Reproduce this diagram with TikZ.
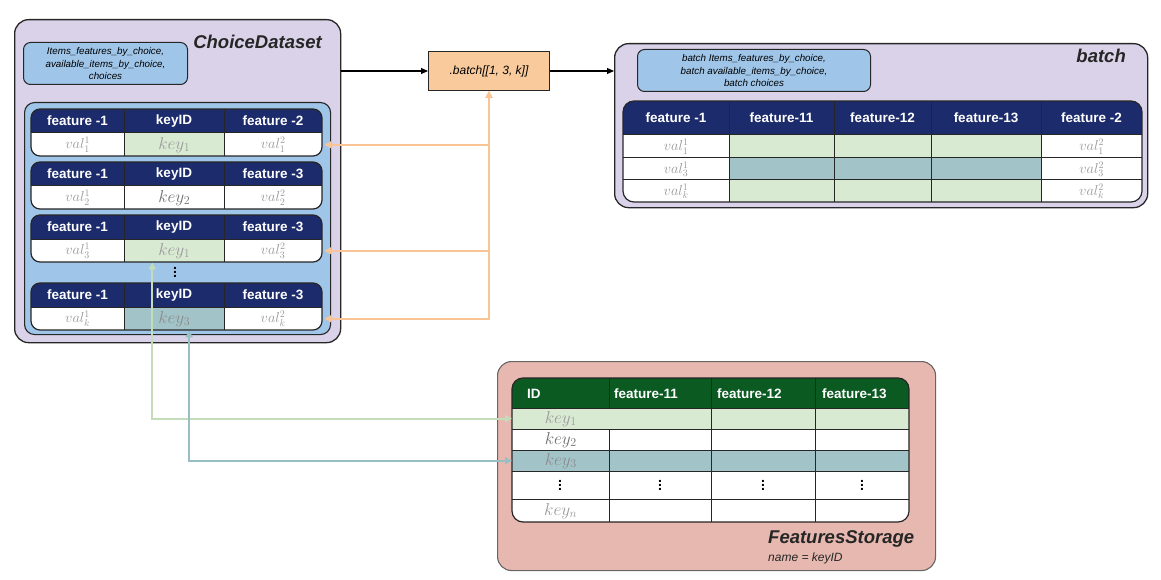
\documentclass[tikz,border=0pt]{standalone}
\usepackage{fontspec}
\setmainfont{Liberation Sans}
\usetikzlibrary{arrows.meta,calc}

\definecolor{lav}{HTML}{D9D2E9}
\definecolor{lblue}{HTML}{9FC5E8}
\definecolor{navy}{HTML}{1C2B6B}
\definecolor{lgreen}{HTML}{D9EAD3}
\definecolor{teal2}{HTML}{A2C4C9}
\definecolor{peach}{HTML}{F9CB9C}
\definecolor{pinkbg}{HTML}{E6B8AF}
\definecolor{dgreen}{HTML}{0B5A22}
\definecolor{edge}{HTML}{262626}
\definecolor{valgray}{HTML}{9A9A9A}
\definecolor{keydark}{HTML}{707070}
\definecolor{arrgreen}{HTML}{C3DDBB}
\definecolor{arrteal}{HTML}{98BFC4}
\definecolor{arrorange}{HTML}{F9C597}

\tikzset{
  outerbox/.style={draw=edge, line width=1.3pt, rounded corners=14pt, fill=lav, inner sep=0pt, anchor=north west},
  infobox/.style={draw=edge, line width=1pt, rounded corners=7pt, fill=lblue, inner sep=0pt, anchor=north west, align=center, font=\fontsize{9.8}{12.2}\selectfont\itshape},
  titletxt/.style={font=\fontsize{18.5}{20}\selectfont\bfseries\itshape, text=black!85, inner sep=0pt},
  hdr/.style={font=\fontsize{13.5}{15}\selectfont\bfseries, text=white, inner sep=0pt},
  cell/.style={inner sep=0pt, anchor=north west, draw=none},
  valtxt/.style={text=valgray, font=\fontsize{14.4}{16}\selectfont},
  keytxt/.style={font=\fontsize{17.28}{19}\selectfont},
  dotstxt/.style={font=\fontsize{14}{15}\selectfont\bfseries, inner sep=0pt},
  gridline/.style={draw=edge, line width=1pt},
  tabedge/.style={draw=edge, line width=1.2pt},
  blackarrow/.style={draw=black, line width=1.1pt, -{Triangle[width=6pt,length=7pt]}},
  conn/.style={line width=1.8pt, {Triangle[width=7pt,length=7pt]}-{Triangle[width=7pt,length=7pt]}},
}

\newcommand\ctab[7]{%
  \begin{scope}
    \clip[rounded corners=9pt] (31,#1) rectangle (322,#1+47);
    \fill[navy] (31,#1) rectangle (322,#1+24);
    \node[cell, fill=white, minimum width=93pt, minimum height=23pt, valtxt] (#2v1) at (31,#1+24) {$val^1_{#4}$};
    \node[cell, fill=#6, minimum width=100pt, minimum height=23pt, keytxt, text=#7] (#2k) at (124,#1+24) {$key_{#5}$};
    \node[cell, fill=white, minimum width=98pt, minimum height=23pt, valtxt] (#2v2) at (224,#1+24) {$val^2_{#4}$};
  \end{scope}
  \draw[gridline] (124,#1) -- (124,#1+47) (224,#1) -- (224,#1+47) (31,#1+24) -- (322,#1+24);
  \draw[tabedge, rounded corners=9pt] (31,#1) rectangle (322,#1+47);
  \node[hdr] (#2h1) at (77.5,#1+12) {feature -1};
  \node[hdr] (#2h2) at (174,#1+12) {keyID};
  \node[hdr] (#2h3) at (273,#1+12) {#3};
}

\begin{document}
\begin{tikzpicture}[x=1pt,y=-1pt]
\useasboundingbox (0,0) rectangle (1161,580);

% ---------------- ChoiceDataset ----------------
\node[outerbox, minimum width=326pt, minimum height=323pt] (cds) at (14,19) {};
\node[titletxt, anchor=base east] (cdsT) at (322,49) {ChoiceDataset};
\node[infobox, minimum width=164pt, minimum height=42pt] (cdsInfo) at (23,42)
  {Items\_features\_by\_choice,\\available\_items\_by\_choice,\\choices};
\node[draw=edge, line width=1.1pt, rounded corners=10pt, fill=lblue, inner sep=0pt, anchor=north west,
      minimum width=306pt, minimum height=232pt] (cdsIn) at (24,102) {};

\ctab{109}{c1}{feature -2}{1}{1}{lgreen}{valgray}
\ctab{162}{c2}{feature -3}{2}{2}{white}{keydark}
\ctab{215}{c3}{feature -3}{3}{1}{lgreen}{valgray}
\ctab{283}{c4}{feature -3}{k}{3}{teal2}{valgray!90!black}
\node[dotstxt] (cdsdots) at (175,269) {\vdots};

% ---------------- batch operation ----------------
\node[draw=edge, line width=1pt, fill=peach, inner sep=0pt, anchor=north west,
      minimum width=121pt, minimum height=39pt, font=\fontsize{12}{14}\selectfont\itshape]
      (batchop) at (428,51) {.batch[[1, 3, k]]};

% ---------------- batch ----------------
\node[outerbox, minimum width=533pt, minimum height=164pt] (bat) at (614,43) {};
\node[titletxt, anchor=base east] (batT) at (1126,63) {batch};
\node[infobox, minimum width=233pt, minimum height=42pt] (batInfo) at (637,49)
  {batch Items\_features\_by\_choice,\\batch available\_items\_by\_choice,\\batch choices};

\begin{scope}
  \clip[rounded corners=11pt] (623,101) rectangle (1142,202);
  \fill[navy] (623,101) rectangle (1142,135);
  \fill[lgreen] (729,135) rectangle (1041,158);
  \fill[teal2] (729,158) rectangle (1041,180);
  \fill[lgreen] (729,180) rectangle (1041,202);
  \node[cell, fill=white, minimum width=106pt, minimum height=23pt, valtxt] (b1a) at (623,135) {$val^1_1$};
  \node[cell, fill=white, minimum width=106pt, minimum height=22pt, valtxt] (b3a) at (623,158) {$val^1_3$};
  \node[cell, fill=white, minimum width=106pt, minimum height=22pt, valtxt] (bka) at (623,180) {$val^1_k$};
  \node[cell, fill=white, minimum width=101pt, minimum height=23pt, valtxt] (b1e) at (1041,135) {$val^2_1$};
  \node[cell, fill=white, minimum width=101pt, minimum height=22pt, valtxt] (b3e) at (1041,158) {$val^2_3$};
  \node[cell, fill=white, minimum width=101pt, minimum height=22pt, valtxt] (bke) at (1041,180) {$val^2_k$};
\end{scope}
\draw[gridline] (729,101) -- (729,202) (834,101) -- (834,202) (931,101) -- (931,202) (1041,101) -- (1041,202)
  (623,135) -- (1142,135) (623,158) -- (1142,158) (623,180) -- (1142,180);
\draw[tabedge, rounded corners=11pt] (623,101) rectangle (1142,202);
\node[hdr] (bh1) at (676,118) {feature -1};
\node[hdr] (bh2) at (781.5,118) {feature-11};
\node[hdr] (bh3) at (882.5,118) {feature-12};
\node[hdr] (bh4) at (986,118) {feature-13};
\node[hdr] (bh5) at (1091.5,118) {feature -2};

% ---------------- FeaturesStorage ----------------
\node[draw=black!60, line width=1.1pt, rounded corners=14pt, fill=pinkbg, inner sep=0pt, anchor=north west,
      minimum width=438pt, minimum height=209pt] (fs) at (497,361) {};
\begin{scope}
  \clip[rounded corners=11pt] (512,378) rectangle (909,522);
  \fill[dgreen] (512,378) rectangle (909,408);
  \fill[lgreen] (512,408) rectangle (909,429);
  \fill[white] (512,429) rectangle (909,450);
  \fill[teal2] (512,450) rectangle (909,471);
  \fill[white] (512,471) rectangle (909,522);
\end{scope}
\draw[gridline] (609,378) -- (609,408) (609,429) -- (609,522)
  (711,378) -- (711,522) (815,378) -- (815,522)
  (512,408) -- (909,408) (512,429) -- (909,429) (512,450) -- (909,450)
  (512,471) -- (909,471) (512,499) -- (909,499);
\draw[tabedge, rounded corners=11pt] (512,378) rectangle (909,522);
\node[hdr, anchor=west] (fh1) at (527,394) {ID};
\node[hdr, anchor=west] (fh2) at (614,394) {feature-11};
\node[hdr, anchor=west] (fh3) at (717,394) {feature-12};
\node[hdr, anchor=west] (fh4) at (822,394) {feature-13};
\node[cell, minimum width=97pt, minimum height=21pt, keytxt, text=valgray] (fsk1) at (512,408) {$key_1$};
\node[cell, minimum width=97pt, minimum height=21pt, keytxt, text=keydark] (fsk2) at (512,429) {$key_2$};
\node[cell, minimum width=97pt, minimum height=21pt, keytxt, text=valgray!90!black] (fsk3) at (512,450) {$key_3$};
\node[dotstxt] (fsd1) at (560,482) {\vdots};
\node[cell, minimum width=97pt, minimum height=23pt, keytxt, text=valgray] (fskn) at (512,499) {$key_n$};
\node[dotstxt] (fsd2) at (660,482) {\vdots};
\node[dotstxt] (fsd3) at (763,482) {\vdots};
\node[dotstxt] (fsd4) at (862,482) {\vdots};
\node[titletxt, anchor=base west] (fsT) at (768,543) {FeaturesStorage};
\node[inner sep=0pt, anchor=base west, font=\fontsize{12}{14}\selectfont\itshape, text=black!85] (fsN) at (768,561) {name = keyID};

% ---------------- connectors ----------------
\draw[blackarrow] (batchop.west -| cds.east) -- (batchop.west);
\draw[blackarrow] (batchop.east) -- (batchop.east -| bat.west);

\draw[conn, draw=arrorange, shorten <=2pt] (c1v2.east) -| (batchop.south);
\draw[conn, draw=arrorange, shorten <=2pt] (c3v2.east) -| (batchop.south);
\draw[conn, draw=arrorange, shorten <=2pt] (c4v2.east) -| (batchop.south);

\draw[conn, draw=arrgreen] (fsk1.west) -| ([xshift=-22pt]c3k.south);
\draw[conn, draw=arrteal] (fsk3.west) -| ([xshift=15pt]c4k.south);
\end{tikzpicture}
\end{document}
